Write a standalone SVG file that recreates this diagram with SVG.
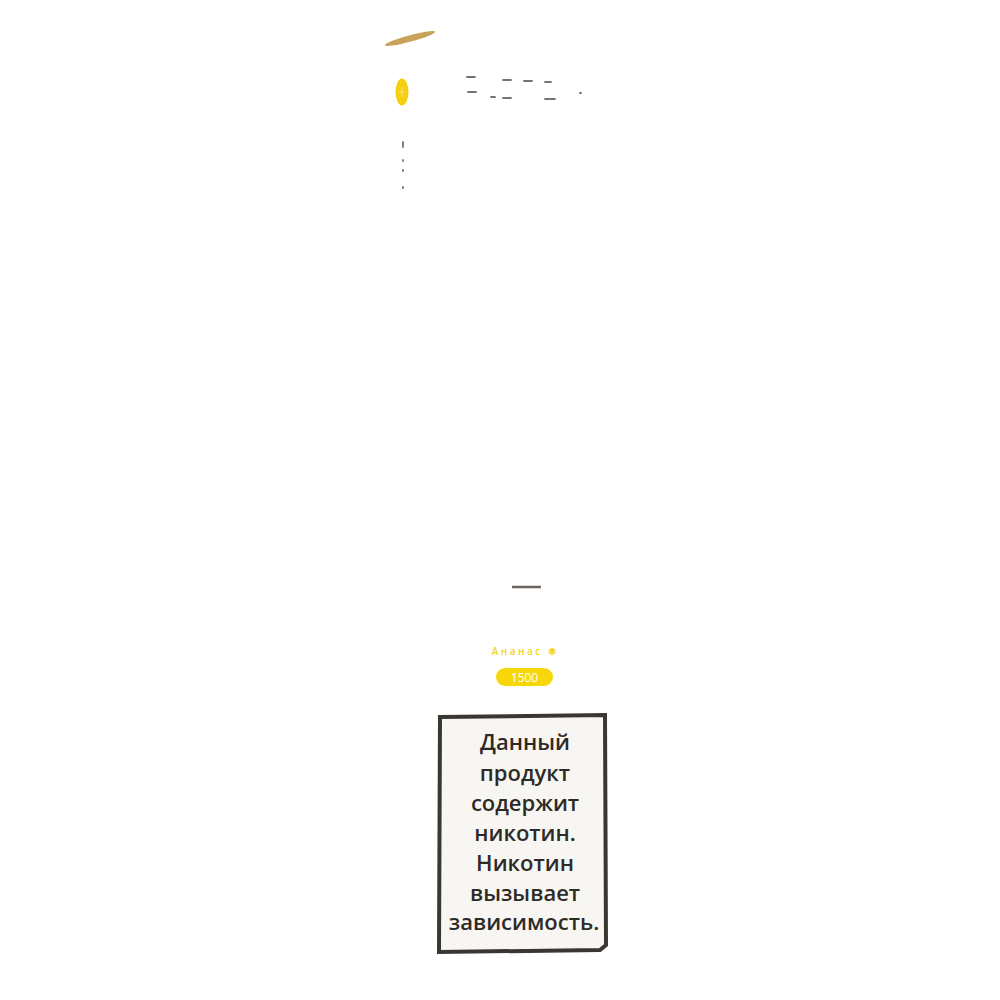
<svg xmlns="http://www.w3.org/2000/svg" width="1000" height="1000" viewBox="0 0 1000 1000">
<style>
.warn{font-family:"Open Sans","Noto Sans",sans-serif;font-weight:600;font-size:22px;fill:#2e2a26;text-anchor:middle}
.frag{stroke:#77726b;stroke-width:1.8;stroke-linecap:round;fill:none}
</style>
<rect width="1000" height="1000" fill="#ffffff"/>
<g id="leaf">
<ellipse cx="410" cy="38.5" rx="26" ry="3.2" transform="rotate(-15 410 38.5)" fill="#c9a25c"/>
</g>
<g id="yellow-dot">
<ellipse cx="402" cy="92" rx="6.5" ry="13.5" fill="#f5cf10"/>
<path d="M402,87 V97 M399,92 H405" stroke="#fbe98a" stroke-width="0.8"/>
</g>
<g id="faint-marks">
<path class="frag" d="M467,77 H475 M468,92 H476 M491,97 H495 M503,80 H511 M503,98 H511 M524,81 H532 M545,82 H551 M545,99 H555 M580,93 H581"/>
<path class="frag" d="M403,142 V147 M403,160 V161 M403,170 V171 M403,187 V188"/>
</g>
<g id="dash">
<line x1="512" y1="587" x2="541" y2="587" stroke="#6b655e" stroke-width="2.5"/>
</g>
<g id="flavor">
<text x="525" y="655" font-family="Open Sans, sans-serif" font-size="10" font-weight="600" fill="#f5d41a" text-anchor="middle" letter-spacing="2.5">Ананас ❄</text>
</g>
<g id="badge">
<rect x="496" y="668" width="57" height="18" rx="9" fill="#f7d708"/>
<text x="524.5" y="681.5" font-family="Open Sans, sans-serif" font-size="12" fill="#ffffff" text-anchor="middle">1500</text>
</g>
<g id="warning">
<path d="M440,717 L605,715 L606,945 L600,950 L439,952 Z" fill="#f8f6f3" stroke="#3a3632" stroke-width="4"/>
<text class="warn" x="525" y="750">Данный</text>
<text class="warn" x="525" y="781">продукт</text>
<text class="warn" x="525" y="811">содержит</text>
<text class="warn" x="525" y="841">никотин.</text>
<text class="warn" x="525" y="871">Никотин</text>
<text class="warn" x="525" y="901">вызывает</text>
<text class="warn" x="524" y="930">зависимость.</text>
</g>
</svg>
